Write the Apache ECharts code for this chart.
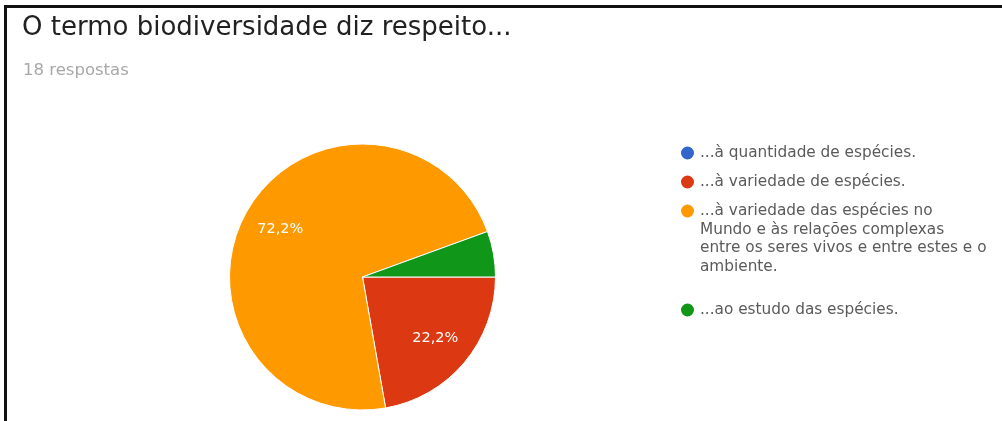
<!DOCTYPE html>
<html>
<head>
<meta charset="utf-8">
<script src="https://cdn.jsdelivr.net/npm/echarts@6/dist/echarts.min.js"></script>
<style>
html,body{margin:0;padding:0;background:#fff;}
#c{width:1002px;height:421px;}
</style>
</head>
<body>
<div id="c"></div>
<script>
const titleText = 'O termo biodiversidade diz respeito...';
const subtitleText = '18 respostas';
const categories = [
  '...à quantidade de espécies.',
  '...à variedade de espécies.',
  '...à variedade das espécies no\nMundo e às relações complexas\nentre os seres vivos e entre estes e o\nambiente.',
  '...ao estudo das espécies.'
];
const counts = [0, 4, 13, 1];
const colors = ['#3366cc', '#dc3912', '#ff9900', '#109618'];

const FONT = '"DejaVu Sans", sans-serif';
const chart = echarts.init(document.getElementById('c'), null, {renderer: 'canvas'});
const data = categories.map((n, i) => ({name: n, value: counts[i], itemStyle: {color: colors[i]}}));

const LH = 18.7;
const legendTops = [143.65, 172.65, 145.55, 300.65];
const legends = categories.map((n, i) => {
  const extra = n.split('\n').length - 1;
  return {
    data: [n],
    orient: 'vertical',
    left: 679,
    top: legendTops[i],
    padding: 0,
    icon: 'circle',
    itemWidth: 15,
    itemHeight: 15,
    selectedMode: false,
    formatter: name => ' \n'.repeat(extra) + name,
    textStyle: {
      fontFamily: FONT,
      fontSize: 15.3,
      color: '#5a5a5a',
      lineHeight: LH
    }
  };
});

chart.setOption({
  animation: false,
  backgroundColor: '#fff',
  title: [
    {text: titleText, left: 22, top: 15, padding: 0,
     textStyle: {fontFamily: FONT, fontSize: 26, fontWeight: 'normal', color: '#212121'}},
    {text: subtitleText, left: 23, top: 62, padding: 0,
     textStyle: {fontFamily: FONT, fontSize: 16.5, fontWeight: 'normal', color: '#a8a8a8'}}
  ],
  legend: legends,
  graphic: [
    {type: 'line', shape: {x1: 4, y1: 6.5, x2: 1002, y2: 6.5}, style: {stroke: '#111', lineWidth: 3}},
    {type: 'line', shape: {x1: 5.5, y1: 5, x2: 5.5, y2: 421}, style: {stroke: '#111', lineWidth: 3}}
  ],
  series: [
    {
      type: 'pie',
      center: [362.5, 277],
      radius: [0, 133],
      startAngle: 0,
      clockwise: true,
      avoidLabelOverlap: false,
      silent: true,
      label: {show: false},
      labelLine: {show: false},
      itemStyle: {borderColor: '#fff', borderWidth: 1},
      data: data
    },
    {
      type: 'pie',
      center: [362.5, 277],
      radius: [51, 133],
      startAngle: 0,
      clockwise: true,
      avoidLabelOverlap: false,
      silent: true,
      legendHoverLink: false,
      itemStyle: {color: 'rgba(0,0,0,0)', borderWidth: 0},
      label: {
        show: true,
        position: 'inside',
        fontFamily: FONT,
        fontSize: 14.5,
        color: '#fff',
        formatter: p => p.percent < 10 ? '' : p.percent.toFixed(1).replace('.', ',') + '%'
      },
      labelLine: {show: false},
      data: categories.map((n, i) => ({name: n, value: counts[i]}))
    }
  ]
});
</script>
</body>
</html>
